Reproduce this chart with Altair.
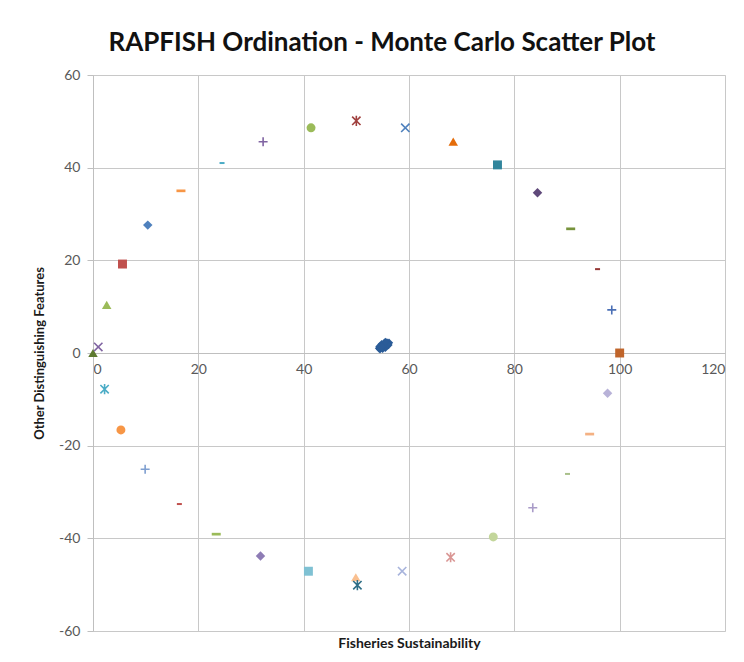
import altair as alt
import pandas as pd

# Reference (anchor) points
ref_x = [41.4, 50.0, 59.3, 68.4, 76.8, 84.4, 90.7, 95.8, 98.5, 100.0,
         97.7, 94.3, 90.1, 83.5, 76.0, 67.9, 58.7, 50.2, 49.9, 40.9,
         31.8, 23.4, 16.4, 9.9, 5.3, 2.2, 1.0, 0.0, 2.6, 5.6,
         10.4, 16.7, 24.5, 32.3]
ref_y = [48.6, 50.1, 48.6, 45.6, 40.6, 34.6, 26.8, 18.1, 9.3, 0.0,
         -8.7, -17.5, -26.1, -33.4, -39.7, -44.1, -47.1, -50.1, -48.4, -47.1,
         -43.8, -39.1, -32.6, -25.1, -16.6, -7.8, 1.3, 0.0, 10.4, 19.2,
         27.6, 35.0, 41.0, 45.6]
ref_marker = ["circle", "asterisk", "x", "triangle", "square", "diamond", "dash", "smalldash", "plus", "square",
              "diamond", "dash", "smalldash", "plus", "circle", "asterisk", "x", "asterisk", "triangle", "square",
              "diamond", "dash", "smalldash", "plus", "circle", "asterisk", "x", "triangle", "triangle", "square",
              "diamond", "dash", "smalldash", "plus"]
ref_color = ["#9BBB59", "#A0403E", "#4F81BD", "#E46C0A", "#31859C", "#5F497A", "#77933C", "#953735", "#4A6FB5", "#C0652B",
             "#B8B2D8", "#F4B183", "#A9C08A", "#A99BC8", "#C3D69B", "#D99694", "#A8B4DC", "#2E6E86", "#FAC090", "#7FC1D3",
             "#8E7CB5", "#9BBB59", "#C0504D", "#7F9FD0", "#F79646", "#4BACC6", "#8064A2", "#5E7A30", "#9BBB59", "#C0504D",
             "#4F81BD", "#F79646", "#4BACC6", "#8064A2"]

# Monte Carlo cluster
mc_x = [54.3, 54.6, 54.9, 55.1, 55.4, 55.7, 56.0, 56.2, 54.5, 54.8, 55.2,
        55.5, 55.8, 56.1, 54.4, 55.0, 55.3, 55.6, 55.9, 54.7, 55.1, 55.5]
mc_y = [1.0, 1.3, 1.5, 1.2, 1.8, 1.6, 2.0, 2.2, 0.8, 1.9, 1.6,
        1.1, 2.3, 1.7, 1.4, 0.9, 2.1, 1.4, 1.9, 1.2, 1.7, 2.4]

SHAPES = {
    "circle": ("circle", 80, True),
    "square": ("square", 80, True),
    "diamond": ("diamond", 90, True),
    "triangle": ("triangle-up", 90, True),
    "dash": ("M-1,-0.3H1V0.3H-1Z", 81, True),
    "smalldash": ("M-1,-0.4H1V0.4H-1Z", 25, True),
    "x": ("M-1,-1L1,1M-1,1L1,-1", 70, False),
    "plus": ("M-1,0L1,0M0,-1L0,1", 81, False),
    "asterisk": ("M-1,-1L1,1M-1,1L1,-1M0,-1.2L0,1.2", 70, False),
}

rows = []
for x, y, m, c in zip(ref_x, ref_y, ref_marker, ref_color):
    shp, sz, filled = SHAPES[m]
    rows.append({"x": x, "y": y, "shape": shp, "size": sz, "filled": filled, "color": c})
for x, y in zip(mc_x, mc_y):
    rows.append({"x": x, "y": y, "shape": "diamond", "size": 70, "filled": True, "color": "#2B5C98"})
df = pd.DataFrame(rows)

xscale = alt.Scale(domain=[0, 120], nice=False, zero=False)
yscale = alt.Scale(domain=[-60, 60], nice=False, zero=False)

x_enc = alt.X("x:Q", scale=xscale,
              axis=alt.Axis(values=[0, 20, 40, 60, 80, 100, 120], orient="bottom", offset=-278,
                            title="Fisheries Sustainability", titleY=283, titleBaseline="top",
                            titleFont="Lato", titleFontSize=14, titleFontWeight="bold", titleColor="#1a1a1a",
                            labelFont="Lato", labelFontSize=14, labelColor="#595959",
                            ticks=False, labelPadding=9, domain=True, domainColor="#BFBFBF",
                            grid=True, gridColor="#C8C8C8"))
y_enc = alt.Y("y:Q", scale=yscale,
              axis=alt.Axis(values=[-60, -40, -20, 0, 20, 40, 60], title="Other Distinguishing Features",
                            titleFont="Lato", titleFontSize=13, titleFontWeight="bold", titleColor="#1a1a1a",
                            labelFont="Lato", labelFontSize=14, labelColor="#595959",
                            labelExpr="'' + datum.value", tickSize=6, tickColor="#BFBFBF",
                            labelPadding=7, titlePadding=12, domain=True, domainColor="#BFBFBF",
                            grid=True, gridColor="#C8C8C8"))

base = alt.Chart(df)
filled_layer = base.transform_filter("datum.filled").mark_point(filled=True, opacity=1).encode(
    x=x_enc, y=y_enc,
    shape=alt.Shape("shape:N", scale=None),
    size=alt.Size("size:Q", scale=None),
    color=alt.Color("color:N", scale=None),
)
stroke_layer = base.transform_filter("!datum.filled").mark_point(filled=False, strokeWidth=1.6, opacity=1).encode(
    x=x_enc, y=y_enc,
    shape=alt.Shape("shape:N", scale=None),
    size=alt.Size("size:Q", scale=None),
    color=alt.Color("color:N", scale=None),
)

chart = alt.layer(filled_layer, stroke_layer).properties(
    width=632, height=556,
    autosize=alt.AutoSizeParams(type="none"),
    padding={"left": 85, "top": 67, "right": 11, "bottom": 30},
    title=alt.TitleParams("RAPFISH Ordination - Monte Carlo Scatter Plot", font="Lato", fontSize=26,
                          fontWeight="bold", color="#111111", anchor="middle", dx=-27, offset=12),
).configure_view(stroke=None).configure(background="white")

chart.save("out.html", embed_options={"renderer": "svg", "actions": False})
